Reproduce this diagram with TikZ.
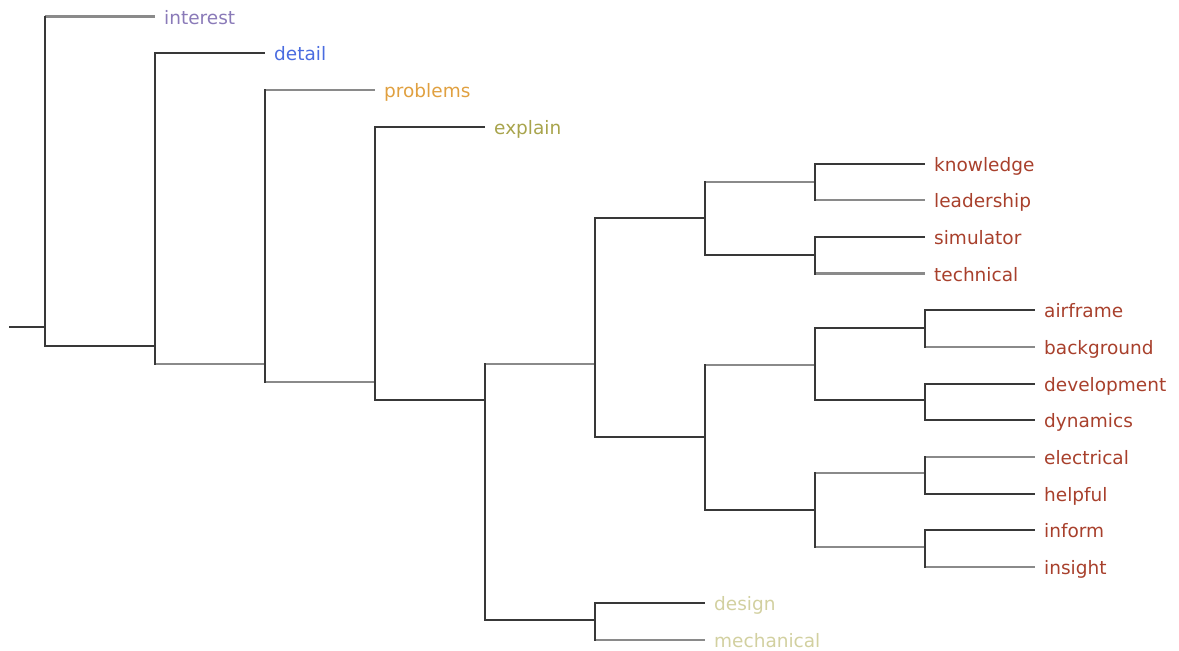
\documentclass[tikz,border=0pt]{standalone}
\usepackage{fontspec}
\setmainfont{DejaVu Sans}
\begin{document}
\definecolor{linedark}{HTML}{383838}
\definecolor{linegray}{HTML}{8A8A8A}
\definecolor{cInterest}{HTML}{8A7AB8}
\definecolor{cDetail}{HTML}{4A6CE0}
\definecolor{cProblems}{HTML}{E0A040}
\definecolor{cExplain}{HTML}{A8A44C}
\definecolor{cLeaf}{HTML}{A8402C}
\definecolor{cPale}{HTML}{D2D0A0}
\begin{tikzpicture}[x=1pt,y=-1pt,
  vbar/.style={draw=linedark,line width=2pt,line cap=rect},
  hd/.style={draw=linedark,line width=2pt},
  hg/.style={draw=linegray,line width=2.2pt},
  lbl/.style={anchor=base west,inner sep=0pt,font=\fontsize{18.5}{20}\selectfont,yshift=-7.5pt,xshift=9pt}]
\useasboundingbox (0,0) rectangle (1179,651);

% ---- joints of the tree ----
\coordinate (r0) at (9,327);
\coordinate (n1) at (45,327);
\coordinate (n2) at (155,346);
\coordinate (n3) at (265,364);
\coordinate (n4) at (375,382);
\coordinate (n5) at (485,400);
\coordinate (a)  at (595,364);
\coordinate (b)  at (595,620);
\coordinate (a1) at (705,218);
\coordinate (a2) at (705,437);
\coordinate (a11) at (815,182);
\coordinate (a12) at (815,255);
\coordinate (a21) at (815,365);
\coordinate (a22) at (815,510);
\coordinate (a211) at (925,328);
\coordinate (a212) at (925,400);
\coordinate (a221) at (925,473);
\coordinate (a222) at (925,547);

% ---- leaf ends and their labels ----
\coordinate (interest) at (155,16.5);
\coordinate (detail) at (265,53.3);
\coordinate (problems) at (375,90);
\coordinate (explain) at (485,126.7);
\coordinate (knowledge) at (925,163.5);
\coordinate (leadership) at (925,200.2);
\coordinate (simulator) at (925,236.9);
\coordinate (technical) at (925,273.5);
\coordinate (airframe) at (1035,310.2);
\coordinate (background) at (1035,346.9);
\coordinate (development) at (1035,383.5);
\coordinate (dynamics) at (1035,420.2);
\coordinate (electrical) at (1035,456.8);
\coordinate (helpful) at (1035,493.5);
\coordinate (inform) at (1035,530.1);
\coordinate (insight) at (1035,566.8);
\coordinate (design) at (705,603.4);
\coordinate (mechanical) at (705,640);

\node[lbl,text=cInterest] (tInterest) at (interest) {interest};
\node[lbl,text=cDetail] (tDetail) at (detail) {detail};
\node[lbl,text=cProblems] (tProblems) at (problems) {problems};
\node[lbl,text=cExplain] (tExplain) at (explain) {explain};
\foreach \w in {knowledge,leadership,simulator,technical,airframe,background,
  development,dynamics,electrical,helpful,inform,insight}
  \node[lbl,text=cLeaf] (t\w) at (\w) {\w};
\node[lbl,text=cPale] (tDesign) at (design) {design};
\node[lbl,text=cPale] (tMechanical) at (mechanical) {mechanical};

% ---- horizontal branches ----
\draw[hd] (r0) -- (n1);
\draw[hg] (n1 |- interest) -- (interest);
\draw[hd] (n1 |- n2) -- (n2);
\draw[hd] (n2 |- detail) -- (detail);
\draw[hg] (n2 |- n3) -- (n3);
\draw[hg] (n3 |- problems) -- (problems);
\draw[hg] (n3 |- n4) -- (n4);
\draw[hd] (n4 |- explain) -- (explain);
\draw[hd] (n4 |- n5) -- (n5);
\draw[hg] (n5 |- a) -- (a);
\draw[hd] (n5 |- b) -- (b);
\draw[hd] (b |- design) -- (design);
\draw[hg] (b |- mechanical) -- (mechanical);
\draw[hd] (a |- a1) -- (a1);
\draw[hd] (a |- a2) -- (a2);
\draw[hg] (a1 |- a11) -- (a11);
\draw[hd] (a1 |- a12) -- (a12);
\draw[hd] (a11 |- knowledge) -- (knowledge);
\draw[hg] (a11 |- leadership) -- (leadership);
\draw[hd] (a12 |- simulator) -- (simulator);
\draw[hg] (a12 |- technical) -- (technical);
\draw[hg] (a2 |- a21) -- (a21);
\draw[hd] (a2 |- a22) -- (a22);
\draw[hd] (a21 |- a211) -- (a211);
\draw[hd] (a21 |- a212) -- (a212);
\draw[hg] (a22 |- a221) -- (a221);
\draw[hg] (a22 |- a222) -- (a222);
\draw[hd] (a211 |- airframe) -- (airframe);
\draw[hg] (a211 |- background) -- (background);
\draw[hd] (a212 |- development) -- (development);
\draw[hd] (a212 |- dynamics) -- (dynamics);
\draw[hg] (a221 |- electrical) -- (electrical);
\draw[hd] (a221 |- helpful) -- (helpful);
\draw[hd] (a222 |- inform) -- (inform);
\draw[hg] (a222 |- insight) -- (insight);

% ---- vertical spans ----
\draw[vbar] (n1 |- interest) -- (n1 |- n2);
\draw[vbar] (n2 |- detail) -- (n2 |- n3);
\draw[vbar] (n3 |- problems) -- (n3 |- n4);
\draw[vbar] (n4 |- explain) -- (n4 |- n5);
\draw[vbar] (n5 |- a) -- (n5 |- b);
\draw[vbar] (b |- design) -- (b |- mechanical);
\draw[vbar] (a |- a1) -- (a |- a2);
\draw[vbar] (a1 |- a11) -- (a1 |- a12);
\draw[vbar] (a2 |- a21) -- (a2 |- a22);
\draw[vbar] (a11 |- knowledge) -- (a11 |- leadership);
\draw[vbar] (a12 |- simulator) -- (a12 |- technical);
\draw[vbar] (a21 |- a211) -- (a21 |- a212);
\draw[vbar] (a22 |- a221) -- (a22 |- a222);
\draw[vbar] (a211 |- airframe) -- (a211 |- background);
\draw[vbar] (a212 |- development) -- (a212 |- dynamics);
\draw[vbar] (a221 |- electrical) -- (a221 |- helpful);
\draw[vbar] (a222 |- inform) -- (a222 |- insight);
\end{tikzpicture}
\end{document}
